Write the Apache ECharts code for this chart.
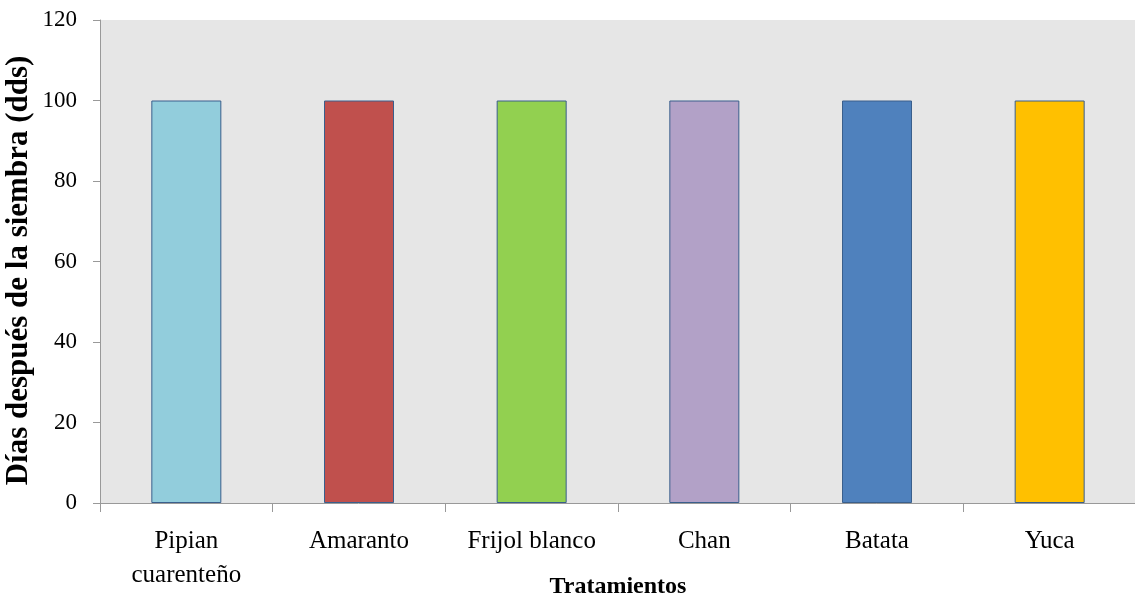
<!DOCTYPE html>
<html>
<head>
<meta charset="utf-8">
<script src="https://cdn.jsdelivr.net/npm/echarts@6/dist/echarts.min.js"></script>
<style>
  html, body { margin: 0; padding: 0; background: #fff; }
  #chart { width: 1135px; height: 612px; }
</style>
</head>
<body>
<div id="chart"></div>
<script>
// data
const categories = ['Pipian\ncuarenteño', 'Amaranto', 'Frijol blanco', 'Chan', 'Batata', 'Yuca'];
const values = [100, 100, 100, 100, 100, 100];
const barColors = ['#92cddc', '#c0504d', '#92d050', '#b2a1c7', '#4f81bd', '#ffc000'];

const font = '"Liberation Serif", "Times New Roman", serif';
const chart = echarts.init(document.getElementById('chart'));

chart.setOption({
    animation: false,
    grid: {
        left: 100, right: -1, top: 20, bottom: 109,
        outerBoundsMode: 'none',
        backgroundColor: '#e6e6e6', show: true, borderWidth: 0
    },
    xAxis: {
        type: 'category',
        data: categories,
        name: 'Tratamientos',
        nameLocation: 'middle',
        nameGap: 72,
        nameMoveOverlap: false,
        nameTextStyle: { fontFamily: font, fontWeight: 'bold', fontSize: 24, color: '#000' },
        axisLine: { lineStyle: { color: '#999', width: 1 } },
        axisTick: { show: true, length: 9, lineStyle: { color: '#999' } },
        axisLabel: { fontFamily: font, fontSize: 25, color: '#000', margin: 21, lineHeight: 34, interval: 0 }
    },
    yAxis: {
        type: 'value',
        min: 0,
        max: 120,
        interval: 20,
        name: 'Días después de la siembra (dds)',
        nameLocation: 'middle',
        nameGap: 66,
        nameMoveOverlap: false,
        nameTextStyle: { fontFamily: font, fontWeight: 'bold', fontSize: 31, color: '#000', padding: [0, 18, 0, 0] },
        axisLine: { show: true, lineStyle: { color: '#999', width: 1 } },
        axisTick: { show: true, length: 7, lineStyle: { color: '#999' } },
        splitLine: { show: false },
        axisLabel: { fontFamily: font, fontSize: 23, color: '#000', margin: 23 }
    },
    series: [{
        type: 'bar',
        barWidth: 70,
        data: values.map((v, i) => ({
            value: v,
            itemStyle: { color: barColors[i] }
        })),
        itemStyle: { borderColor: '#3a5f8c', borderWidth: 1 }
    }]
});
</script>
</body>
</html>
